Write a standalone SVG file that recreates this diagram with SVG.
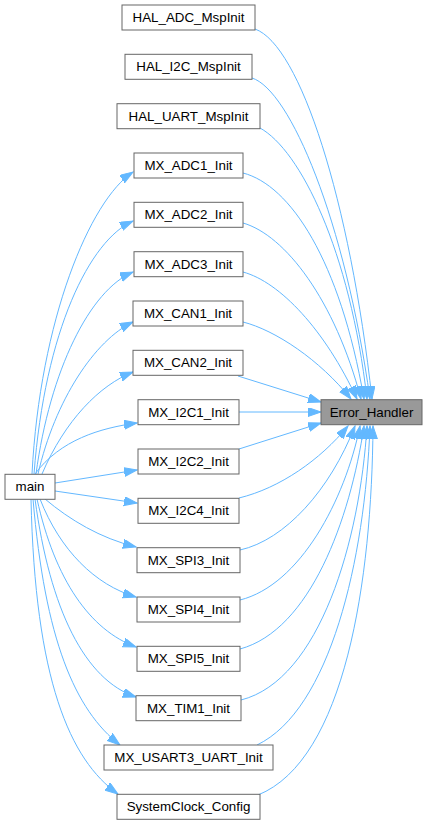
<svg xmlns="http://www.w3.org/2000/svg" width="428" height="825" viewBox="0 0 428 825">
<style>
.n rect{fill:#ffffff;stroke:#666666;stroke-width:1}
#Error_Handler rect{fill:#999999}
.n text{font-family:"Liberation Sans",Arial,sans-serif;font-size:13.33px;fill:#000000;text-anchor:middle}
.e path{fill:none;stroke:#63b8ff;stroke-width:1;marker-end:url(#ah)}
</style>
<defs>
<marker id="ah" markerUnits="userSpaceOnUse" markerWidth="14" markerHeight="10" refX="13" refY="4.5" orient="auto">
<path d="M0,0 L13,4.5 L0,9 z" fill="#63b8ff" stroke="#63b8ff" stroke-width="1"/>
</marker>
</defs>
<g id="edges" class="e">
<path d="M255,29 C300,45 350,200 372,399"/>
<path d="M252,78 C290,90 345,220 370,399"/>
<path d="M260,128 C300,150 350,250 367,399"/>
<path d="M243,173 C290,185 340,260 364,399"/>
<path d="M243,223 C285,235 335,300 361,399"/>
<path d="M243,272 C280,282 325,330 357,399"/>
<path d="M243,322 C275,330 320,360 351,399"/>
<path d="M238,376 L321,402"/>
<path d="M239,412 L321,412"/>
<path d="M239,449 L321,423"/>
<path d="M239,498 C280,488 320,460 348,426"/>
<path d="M240,550 C285,540 330,490 355,426"/>
<path d="M240,600 C300,585 345,500 360,426"/>
<path d="M240,649 C310,630 350,520 364,426"/>
<path d="M241,700 C320,680 360,540 367,426"/>
<path d="M257,745 C330,710 365,560 370,426"/>
<path d="M258,795 C345,760 372,580 373,426"/>
<path d="M32,474 C40,320 90,200 133,172"/>
<path d="M34,474 C45,330 90,240 133,221"/>
<path d="M36,474 C50,370 90,290 133,272"/>
<path d="M38,474 C55,400 95,340 133,322"/>
<path d="M42,474 C65,420 100,385 133,372"/>
<path d="M35,474 C60,440 100,428 137,423"/>
<path d="M55,483 L137,470"/>
<path d="M55,491 L137,503"/>
<path d="M45,499 C70,520 100,538 136,547"/>
<path d="M40,499 C60,550 95,585 136,597"/>
<path d="M37,499 C55,580 90,630 136,647"/>
<path d="M35,499 C50,610 85,680 136,697"/>
<path d="M33,499 C45,640 75,710 120,745"/>
<path d="M31,499 C35,680 70,760 118,794"/>
</g>
<g id="HAL_ADC_MspInit" class="n"><rect x="122" y="5" width="133" height="25"/><text x="188.5" y="22">HAL_ADC_MspInit</text></g>
<g id="HAL_I2C_MspInit" class="n"><rect x="125" y="54.3" width="127" height="25"/><text x="188.5" y="71.3">HAL_I2C_MspInit</text></g>
<g id="HAL_UART_MspInit" class="n"><rect x="117" y="103.7" width="143" height="25"/><text x="188.5" y="120.7">HAL_UART_MspInit</text></g>
<g id="MX_ADC1_Init" class="n"><rect x="134" y="153" width="109" height="25"/><text x="188.5" y="170">MX_ADC1_Init</text></g>
<g id="MX_ADC2_Init" class="n"><rect x="134" y="202.3" width="109" height="25"/><text x="188.5" y="219.3">MX_ADC2_Init</text></g>
<g id="MX_ADC3_Init" class="n"><rect x="134" y="251.7" width="109" height="25"/><text x="188.5" y="268.7">MX_ADC3_Init</text></g>
<g id="MX_CAN1_Init" class="n"><rect x="133" y="301" width="110" height="25"/><text x="188" y="318">MX_CAN1_Init</text></g>
<g id="MX_CAN2_Init" class="n"><rect x="133" y="350.3" width="110" height="25"/><text x="188" y="367.3">MX_CAN2_Init</text></g>
<g id="MX_I2C1_Init" class="n"><rect x="138" y="399.7" width="101" height="25"/><text x="188.5" y="416.7">MX_I2C1_Init</text></g>
<g id="MX_I2C2_Init" class="n"><rect x="138" y="449" width="101" height="25"/><text x="188.5" y="466">MX_I2C2_Init</text></g>
<g id="MX_I2C4_Init" class="n"><rect x="138" y="498.3" width="101" height="25"/><text x="188.5" y="515.3">MX_I2C4_Init</text></g>
<g id="MX_SPI3_Init" class="n"><rect x="137" y="547.7" width="103" height="25"/><text x="188.5" y="564.7">MX_SPI3_Init</text></g>
<g id="MX_SPI4_Init" class="n"><rect x="137" y="597" width="103" height="25"/><text x="188.5" y="614">MX_SPI4_Init</text></g>
<g id="MX_SPI5_Init" class="n"><rect x="137" y="646.3" width="103" height="25"/><text x="188.5" y="663.3">MX_SPI5_Init</text></g>
<g id="MX_TIM1_Init" class="n"><rect x="136" y="695.7" width="105" height="25"/><text x="188.5" y="712.7">MX_TIM1_Init</text></g>
<g id="MX_USART3_UART_Init" class="n"><rect x="104" y="745" width="169" height="25"/><text x="188.5" y="762">MX_USART3_UART_Init</text></g>
<g id="SystemClock_Config" class="n"><rect x="117" y="794.3" width="143" height="25"/><text x="188.5" y="811.3">SystemClock_Config</text></g>
<g id="main" class="n"><rect x="5" y="474.3" width="50" height="25"/><text x="30" y="491.3">main</text></g>
<g id="Error_Handler" class="n"><rect x="321" y="399.7" width="101" height="25"/><text x="371.5" y="416.7">Error_Handler</text></g>
</svg>
